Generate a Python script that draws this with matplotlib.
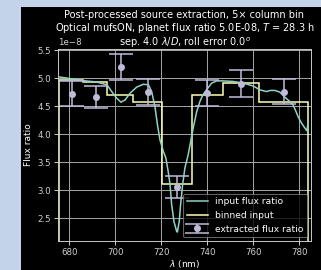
import matplotlib
import matplotlib.pyplot as plt
import numpy as np
from matplotlib.patches import Rectangle

matplotlib.use("Agg")

SCALE = 1e-8

# input spectrum (wavelength in nm, flux ratio in units of 1e-8)
wl_input = [675.6, 678.9, 684.7, 691.9, 696.3, 698.4, 700.6, 702.4, 704.2, 706.4,
            709.3, 712.2, 714.4, 715.8, 717.3, 718.3, 719.4, 720.9, 722.0, 723.0,
            723.8, 724.5, 725.5, 726.7, 727.0, 727.8, 728.4, 729.3, 730.3, 731.7,
            732.8, 733.9, 735.4, 736.8, 738.1, 739.7, 741.9, 744.1, 747.0, 751.3,
            755.7, 760.0, 762.9, 765.8, 767.5, 769.4, 771.6, 773.8, 776.0, 777.4,
            778.9, 779.6, 781.0, 782.5, 783.4, 784.0]
flux_input = [5.02, 5.00, 4.96, 4.93, 4.88, 4.76, 4.64, 4.57, 4.61, 4.73,
              4.84, 4.89, 4.88, 4.76, 4.47, 4.17, 3.90, 3.69, 3.57, 3.33,
              3.10, 2.74, 2.44, 2.26, 2.25, 2.44, 2.74, 3.10, 3.40, 3.63,
              3.87, 4.11, 4.40, 4.58, 4.70, 4.79, 4.91, 4.95, 4.95, 4.94,
              4.91, 4.86, 4.79, 4.76, 4.78, 4.78, 4.75, 4.66, 4.58, 4.52,
              4.38, 4.31, 4.20, 4.11, 4.06, 4.22]

# binned input
bin_edges = [675.6, 686.0, 696.4, 707.7, 720.3, 733.3, 746.8, 762.5, 784.0]
flux_binned = [4.97, 4.93, 4.69, 4.57, 3.10, 4.70, 4.91, 4.57]

# extracted flux ratio
wl_extracted = [681.0, 691.4, 702.5, 714.3, 726.9, 740.1, 754.6, 773.5]
flux_extracted = [4.72, 4.66, 5.20, 4.75, 3.05, 4.74, 4.90, 4.76]
err_extracted = [0.22, 0.20, 0.235, 0.235, 0.195, 0.235, 0.245, 0.225]

plt.style.use("dark_background")
plt.rcParams["font.size"] = 6.3

fig = plt.figure(figsize=(3.21, 2.70), dpi=100, facecolor="black")
# light strip left and top of the figure
fig.patches.append(Rectangle((0, 0), 21 / 321, 1, transform=fig.transFigure,
                             facecolor="#c3d3ea", edgecolor="none", zorder=-10))
fig.patches.append(Rectangle((0, 263 / 270), 1, 7 / 270, transform=fig.transFigure,
                             facecolor="#c3d3ea", edgecolor="none", zorder=-10))
ax = fig.add_axes([58 / 321, 29 / 270, 253 / 321, 192 / 270])

s = np.array
ax.plot(wl_input, s(flux_input) * SCALE, color="#8dd3c7", lw=1.1,
        label="input flux ratio", zorder=3)
ax.stairs(s(flux_binned) * SCALE, bin_edges, color="#feffb3", lw=1.1,
          label="binned input", zorder=2)
ax.errorbar(wl_extracted, s(flux_extracted) * SCALE, yerr=s(err_extracted) * SCALE,
            fmt="o", color="#bfbbd9", ms=4, elinewidth=1.1, capsize=8.8,
            capthick=1.1, label="extracted flux ratio", zorder=4)

ax.set_xlim(675.0, 785.2)
ax.set_ylim(2.09 * SCALE, 5.52 * SCALE)
ax.set_xticks([680, 700, 720, 740, 760, 780])
ax.set_yticks(s([2.5, 3.0, 3.5, 4.0, 4.5, 5.0, 5.5]) * SCALE)
ax.grid(True, color="#a8a8a8", lw=0.7)
for sp in ax.spines.values():
    sp.set_color("#c8c8c8")
    sp.set_linewidth(0.7)
ax.tick_params(colors="#d0d0d0", width=0.7, length=3, labelsize=6.2, pad=2)

ax.set_xlabel(r"$\lambda$ (nm)", fontsize=6.5, labelpad=1)
ax.set_ylabel("Flux ratio", fontsize=6.5, labelpad=3)
ax.set_title("Post-processed source extraction, 5\u00d7 column bin\n"
             "Optical mufsON, planet flux ratio 5.0E-08, $T$ = 28.3 h\n"
             r"sep. 4.0 $\lambda/D$, roll error 0.0$^o$",
             fontsize=7, pad=2, linespacing=1.08, y=1.0)
ax.yaxis.get_offset_text().set_fontsize(6.2)

leg = ax.legend(loc="lower right", fontsize=6.6, framealpha=0.8,
                edgecolor="#808080", borderaxespad=0.4, handlelength=2.3)
leg.get_frame().set_linewidth(0.7)

fig.savefig("out.png", dpi=100, facecolor=fig.get_facecolor())
